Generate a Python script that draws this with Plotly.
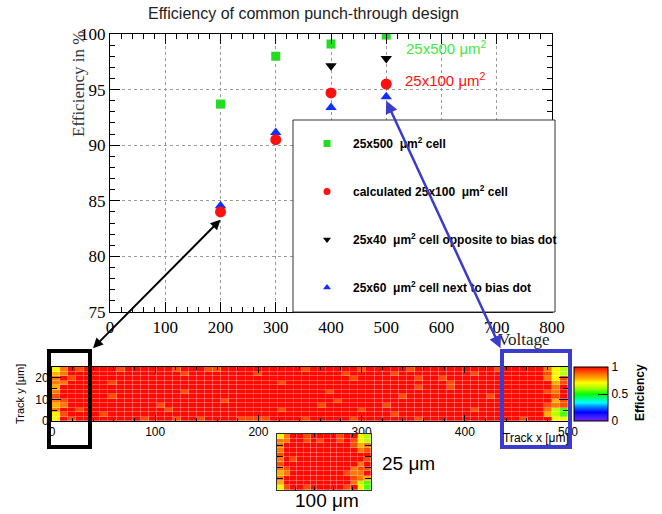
import plotly.graph_objects as go

# ---------------- data: efficiency vs voltage ----------------
voltage = [200, 300, 400, 500]
eff_25x500 = [93.7, 98.0, 99.1, 99.9]
eff_25x100 = [84.0, 90.5, 94.7, 95.5]
voltage_25x40 = [400, 500]
eff_25x40 = [97.15, 97.8]
eff_25x60 = [84.55, 91.15, 93.4, 94.35]

x_ticks = [0, 100, 200, 300, 400, 500, 600, 700, 800]
y_ticks = [75, 80, 85, 90, 95, 100]

names = ["25x500  \u03bcm<sup>2</sup> cell",
         "calculated 25x100  \u03bcm<sup>2</sup> cell",
         "25x40  \u03bcm<sup>2</sup> cell opposite to bias dot",
         "25x60  \u03bcm<sup>2</sup> cell next to bias dot"]

# ---------------- data: efficiency maps (codes) ----------------
code_values = {".": 0.99, "o": 0.91, "O": 0.86, "y": 0.79, "Y": 0.72, "g": 0.63, "G": 0.55}

map_rows = [  # top row first, 64 columns of 500/64 um
    "YO.o.... o......o ...oo... .......o ......o. ....o... .......o .....OYg",
    "yO...... ........ o....... .o...... ....o... ..o..... ....o... .....oYg",
    "O.o..... ........ ........ ........ .....o.. .....o.. o....... .....OYo",
    "OO.....o ........ ........ ....o... ........ ........ .o...... ......yo",
    "y....... ........ ........ ........ ........ .....o.. .o...... ......O.",
    "O....... ........ o....... ........ ..o..... ........ ........ .....oO.",
    "o......o ........ ........ ........ ........ ...o.... ......o. ......o.",
    "Oo...... ........ .....o.. ........ ...o.... ........ ........ ......yo",
    "yO...... .....o.. ........ ........ .o...... .o...... ........ .....oOo",
    "O..o.... ......o. ........ ....o... ......o. ........ ....o... .....OgG",
    "Yo....o. ........ ........ ........ ........ ..o..... ........ .....ygG",
    "Y.o..... ...o...o ..o....o ooo....o .....o.. .....o.. ........ ..o...YY",
]
inset_rows = [  # top row first, 14 columns of 100/14 um
    "YO..o....o..Yg",
    "OO..o.o..o.oYg",
    "O..........oyO",
    "O...........Oo",
    "o.............",
    "O.o..........o",
    "o...........O.",
    "Oo.........Ooo",
    "yO........oOO.",
    "O..........oOy",
    "y..........OgG",
    "Yo..o.....o.YG",
]


def decode(rows):
    z = []
    for r in rows:
        z.append([code_values[c] for c in r.replace(" ", "")])
    return z[::-1]  # bottom row first for plotting


z_map = decode(map_rows)
z_inset = decode(inset_rows)
n_map_x, n_map_y = len(z_map[0]), len(z_map)
n_in_x, n_in_y = len(z_inset[0]), len(z_inset)

palette = [
    [0.00, "#7a1fff"], [0.08, "#3c1fff"], [0.16, "#0000ff"], [0.26, "#0080ff"],
    [0.34, "#00ffff"], [0.42, "#00ff80"], [0.50, "#00ff00"], [0.58, "#80ff00"],
    [0.65, "#d0ff00"], [0.71, "#ffff00"], [0.78, "#ffb400"], [0.86, "#ff7800"],
    [0.93, "#ff3c00"], [1.00, "#ff0000"],
]

W, H = 662, 514


def px(x):
    return x / W


def py(y):
    return 1 - y / H


fig = go.Figure()

# heatmaps
fig.add_trace(go.Heatmap(z=z_map, x0=500 / n_map_x / 2, dx=500 / n_map_x,
                         y0=25 / n_map_y / 2, dy=25 / n_map_y,
                         coloraxis="coloraxis", xaxis="x2", yaxis="y2",
                         xgap=0.3, ygap=0.3, hoverinfo="skip"))
fig.add_trace(go.Heatmap(z=z_inset, x0=100 / n_in_x / 2, dx=100 / n_in_x,
                         y0=25 / n_in_y / 2, dy=25 / n_in_y,
                         coloraxis="coloraxis", xaxis="x3", yaxis="y3",
                         xgap=0.3, ygap=0.3, hoverinfo="skip"))

# main data
fig.add_trace(go.Scatter(x=voltage, y=eff_25x500, mode="markers", showlegend=False,
                         marker=dict(symbol="square", size=9, color="#22dd22")))
fig.add_trace(go.Scatter(x=voltage, y=eff_25x60, mode="markers", showlegend=False,
                         marker=dict(symbol="triangle-up", size=10, color="#1030ff")))
fig.add_trace(go.Scatter(x=voltage_25x40, y=eff_25x40, mode="markers", showlegend=False,
                         marker=dict(symbol="triangle-down", size=10, color="black")))
fig.add_trace(go.Scatter(x=voltage, y=eff_25x100, mode="markers", showlegend=False,
                         marker=dict(symbol="circle", size=11, color="#ff1010")))

# legend entries
leg_styles = [("square", "#22dd22"), ("circle", "#ff1010"),
              ("triangle-down", "black"), ("triangle-up", "#1030ff")]
for i, (nm, (sym, col)) in enumerate(zip(names, leg_styles)):
    fig.add_trace(go.Scatter(x=[None], y=[None], mode="markers", name="<b>" + nm + "</b>",
                             legendgroup="g%d" % i,
                             marker=dict(symbol=sym, size=7, color=col)))

serif = "Liberation Serif"
sans = "Liberation Sans"

fig.update_layout(
    width=W, height=H, margin=dict(l=0, r=0, t=0, b=0, autoexpand=False),
    paper_bgcolor="white", plot_bgcolor="white",
    showlegend=True,
    legend=dict(x=px(301), xanchor="left", y=py(129), yanchor="top",
                bgcolor="rgba(0,0,0,0)", borderwidth=0, tracegroupgap=29, itemwidth=42,
                font=dict(family=sans, size=12, color="black")),
    xaxis=dict(domain=[px(110), px(552)], range=[0, 800], tickvals=x_ticks,
               anchor="y", ticks="inside", ticklen=10, tickcolor="black",
               showline=True, linecolor="black", linewidth=1, mirror="allticks",
               showgrid=True, gridcolor="#9a9a9a", griddash="dot", gridwidth=1,
               zeroline=False, tickfont=dict(family=serif, size=17, color="black"),
               minor=dict(dtick=20, ticks="inside", ticklen=5, tickcolor="black", showgrid=False)),
    yaxis=dict(domain=[py(312), py(34)], range=[75, 100], tickvals=y_ticks,
               anchor="x", ticks="inside", ticklen=10, tickcolor="black",
               showline=True, linecolor="black", linewidth=1, mirror="allticks",
               showgrid=True, gridcolor="#9a9a9a", griddash="dot", gridwidth=1,
               zeroline=False, tickfont=dict(family=serif, size=17, color="black"),
               minor=dict(dtick=1, ticks="inside", ticklen=5, tickcolor="black", showgrid=False)),
    xaxis2=dict(domain=[px(52), px(568)], range=[0, 500], tickvals=[0, 100, 200, 300, 400, 500],
                anchor="y2", ticks="inside", ticklen=6, tickcolor="black",
                showline=True, linecolor="black", linewidth=1, mirror="allticks",
                showgrid=False, zeroline=False,
                tickfont=dict(family=sans, size=12, color="black"),
                minor=dict(dtick=20, ticks="inside", ticklen=3, tickcolor="black")),
    yaxis2=dict(domain=[py(421), py(367)], range=[0, 25], tickvals=[0, 10, 20],
                anchor="x2", ticks="inside", ticklen=9, tickcolor="black",
                showline=True, linecolor="black", linewidth=1, mirror="allticks",
                showgrid=False, zeroline=False,
                tickfont=dict(family=sans, size=12, color="black"),
                minor=dict(dtick=5, ticks="inside", ticklen=5, tickcolor="black")),
    xaxis3=dict(domain=[px(277), px(371)], range=[0, 100], anchor="y3",
                showticklabels=False, ticks="inside", ticklen=3, tickcolor="black", dtick=20,
                showline=True, linecolor="#333", linewidth=1, mirror="allticks",
                showgrid=False, zeroline=False),
    yaxis3=dict(domain=[py(490), py(434)], range=[0, 25], anchor="x3",
                showticklabels=False, ticks="inside", ticklen=6, tickcolor="black", dtick=5,
                showline=True, linecolor="#333", linewidth=1, mirror="allticks",
                showgrid=False, zeroline=False),
    coloraxis=dict(cmin=0, cmax=1, colorscale=palette,
                   colorbar=dict(x=px(574), xanchor="left", y=py(421), yanchor="bottom",
                                 len=54, lenmode="pixels", thickness=34, thicknessmode="pixels",
                                 xpad=0, ypad=0, tickvals=[0, 0.5, 1], ticktext=["0", "0.5", "1"],
                                 ticks="inside", ticklen=10, tickcolor="black",
                                 outlinewidth=1, outlinecolor="black",
                                 tickfont=dict(family=sans, size=12, color="black"))),
)

shapes = [
    dict(type="rect", xref="paper", yref="paper", x0=px(293), x1=px(555), y0=py(312), y1=py(120),
         fillcolor="white", line=dict(color="#333", width=1), layer="above"),
    dict(type="rect", xref="paper", yref="paper", x0=px(49), x1=px(90), y0=py(447), y1=py(351),
         line=dict(color="black", width=4), layer="above"),
    dict(type="rect", xref="paper", yref="paper", x0=px(502), x1=px(570), y0=py(447), y1=py(351),
         line=dict(color="#3b3bcc", width=4), layer="above"),
]
fig.update_layout(shapes=shapes)

ann = [
    dict(x=px(303), y=py(13), text="Efficiency of common punch-through design",
         font=dict(family=sans, size=16, color="#222")),
    dict(x=px(79), y=py(84), text="Efficiency in %", textangle=-90,
         font=dict(family=serif, size=17, color="#333")),
    dict(x=px(552), y=py(339), text="Voltage", xanchor="right",
         font=dict(family=serif, size=17, color="#222")),
    dict(x=px(404), y=py(47), text="25x500 \u03bcm<sup>2</sup>", xanchor="left",
         font=dict(family=sans, size=15, color="#44e844")),
    dict(x=px(403), y=py(79), text="25x100 \u03bcm<sup>2</sup>", xanchor="left",
         font=dict(family=sans, size=15, color="#ff1010")),
    dict(x=px(20), y=py(394), text="Track y [\u03bcm]", textangle=-90,
         font=dict(family=sans, size=11, color="black")),
    dict(x=px(571), y=py(438), text="Track x [\u03bcm]", xanchor="right",
         font=dict(family=sans, size=12, color="black")),
    dict(x=px(640), y=py(393), text="<b>Efficiency</b>", textangle=-90,
         font=dict(family=sans, size=12, color="black")),
    dict(x=px(380), y=py(463), text="25 \u03bcm", xanchor="left",
         font=dict(family=sans, size=19, color="black")),
    dict(x=px(327), y=py(500), text="100 \u03bcm",
         font=dict(family=sans, size=19, color="black")),
]
for a in ann:
    a.setdefault("xanchor", "center")
    a.update(xref="paper", yref="paper", showarrow=False, yanchor="middle")
    fig.add_annotation(**a)

# double-headed arrows from the curves to the map regions
fig.add_annotation(x=200, y=83.3, xref="x", yref="y", ax=-129, ay=130, axref="pixel", ayref="pixel",
                   text="", showarrow=True, arrowside="end+start", arrowhead=2, arrowsize=1,
                   arrowwidth=2, arrowcolor="black", standoff=0, startstandoff=0)
fig.add_annotation(x=500, y=94.0, xref="x", yref="y", ax=115, ay=249, axref="pixel", ayref="pixel",
                   text="", showarrow=True, arrowside="end+start", arrowhead=2, arrowsize=1,
                   arrowwidth=2.5, arrowcolor="#3b3bcc", standoff=0, startstandoff=0)

fig.write_html("out.html", config={"displayModeBar": False},
               post_script="document.body.style.margin='0';document.body.style.overflow='hidden';")
